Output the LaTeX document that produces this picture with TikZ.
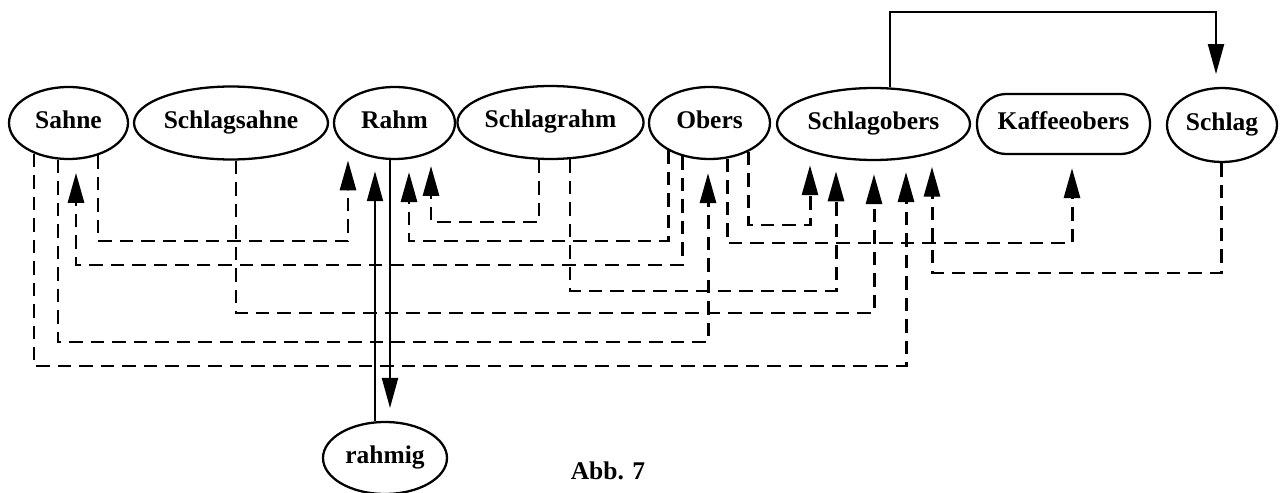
\documentclass[tikz,border=0pt]{standalone}
\usepackage{fontspec}
\setmainfont{Liberation Serif}
\usetikzlibrary{arrows.meta,shapes.geometric,calc}
% border point of an elliptic node at a given x (in px units); #4 = 1 bottom, -1 top
\newcommand\bpt[4]{%
  \path let \p0=(#1.center), \p1=(#1.east), \p2=(#1.south), \p3=(#2,0) in
    coordinate (#3) at (\x3, {\y0+(#4)*(\y2-\y0)*sqrt(1-((\x3-\x0)/(\x1-\x0))^2)});%
}
\begin{document}
\begin{tikzpicture}[x=0.02cm,y=-0.02cm,
  lbl/.style={font=\fontsize{14.5}{17}\selectfont\bfseries},
  term/.style={lbl, draw, ellipse, line width=1.3pt, inner sep=0pt, text height=10pt, text depth=4.3pt},
  termbox/.style={lbl, draw, rectangle, rounded corners=0.59cm, line width=1.3pt, inner sep=0pt, text height=10pt, text depth=4.3pt},
  dep/.style={dash pattern=on 0.27cm off 0.16cm, line width=1.7pt},
  rel/.style={line width=1.15pt},
  tip/.style={-{Triangle[length=0.6cm,width=0.32cm]}, shorten >=0.26cm},
]
\useasboundingbox (0,0) rectangle (1285,493);

\node[term, minimum width=2.38cm, minimum height=1.44cm] (Sahne) at (68.5,123) {Sahne};
\node[term, minimum width=3.88cm, minimum height=1.46cm] (Schlagsahne) at (231,123) {Schlagsahne};
\node[term, minimum width=2.42cm, minimum height=1.44cm] (Rahm) at (394.5,123) {Rahm};
\node[term, minimum width=3.54cm, minimum height=1.46cm] (Schlagrahm) at (550.5,122.5) {Schlagrahm};
\node[term, minimum width=2.42cm, minimum height=1.44cm] (Obers) at (709.5,123) {Obers};
\node[term, minimum width=3.86cm, minimum height=1.44cm] (Schlagobers) at (873.5,124) {Schlagobers};
\node[termbox, minimum width=3.46cm, minimum height=1.2cm] (Kaffeeobers) at (1063.5,124) {Kaffeeobers};
\node[term, minimum width=2.2cm, minimum height=1.48cm] (Schlag) at (1222,125) {Schlag};
\node[term, minimum width=2.48cm, minimum height=1.44cm] (rahmig) at (385,458) {rahmig};
\node[lbl, anchor=base] (caption) at (608,479) {Abb. 7};

% border points
\bpt{Sahne}{98}{sa1}{1}
\bpt{Sahne}{76}{sa2}{1}
\bpt{Sahne}{58}{sa3}{1}
\bpt{Sahne}{34}{sa4}{1}
\bpt{Schlagsahne}{236}{ss1}{1}
\bpt{Rahm}{348}{ra1}{1}
\bpt{Rahm}{375}{ra2}{1}
\bpt{Rahm}{390}{ra3}{1}
\bpt{Rahm}{409}{ra4}{1}
\bpt{Rahm}{431}{ra5}{1}
\bpt{Schlagrahm}{539}{sr1}{1}
\bpt{Schlagrahm}{570}{sr2}{1}
\bpt{Obers}{668}{ob1}{1}
\bpt{Obers}{682}{ob2}{1}
\bpt{Obers}{708}{ob3}{1}
\bpt{Obers}{727}{ob4}{1}
\bpt{Obers}{748}{ob5}{1}
\bpt{Schlagobers}{810}{so1}{1}
\bpt{Schlagobers}{836}{so2}{1}
\bpt{Schlagobers}{874}{so3}{1}
\bpt{Schlagobers}{906}{so4}{1}
\bpt{Schlagobers}{932}{so5}{1}
\bpt{Schlagobers}{890}{sot}{-1}
\bpt{Schlag}{1221}{sc1}{1}
\bpt{Schlag}{1216}{sct}{-1}
\bpt{rahmig}{390}{rg1}{-1}
\bpt{rahmig}{375}{rg2}{-1}
\coordinate (kx) at (1072,0);

% dashed relations
\draw[dep,tip] (sa1) |- (348,241) -- (ra1);
\draw[dep,tip] (ob2) |- (76,265) -- (sa2);
\draw[dep,tip] (ss1) |- (874,313) -- (so3);
\draw[dep,tip] (sa3) |- (708,342) -- (ob3);
\draw[dep,tip] (sa4) |- (906,366) -- (so4);
\draw[dep,tip] (ob1) |- (409,241) -- (ra4);
\draw[dep,tip] (sr1) |- (431,222) -- (ra5);
\draw[dep,tip] (sr2) |- (836,291) -- (so2);
\draw[dep,tip] (ob4) |- (1072,243) -- (kx |- Kaffeeobers.south);
\draw[dep,tip] (ob5) |- (810,225) -- (so1);
\draw[dep,tip] (sc1) |- (932,273) -- (so5);

% solid relations
\draw[rel,tip] (ra3) -- (rg1);
\draw[rel,tip] (rg2) -- (ra2);
\draw[rel,tip] (sot) |- (1216,12) -- (sct);
\end{tikzpicture}
\end{document}
